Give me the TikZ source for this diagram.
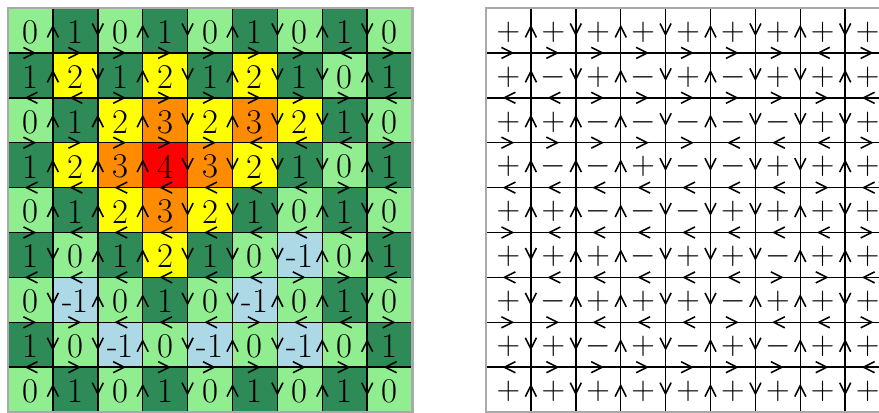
\documentclass[tikz,border=0pt]{standalone}
\usetikzlibrary{arrows.meta}
\definecolor{h0}{HTML}{ADD8E6}
\definecolor{h1}{HTML}{90EE90}
\definecolor{h2}{HTML}{2E8B57}
\definecolor{h3}{HTML}{FFFF00}
\definecolor{h4}{HTML}{FF8C00}
\definecolor{h5}{HTML}{FF0000}
\definecolor{framegray}{HTML}{AAAAAA}
\def\HH{{0,1,0,1,0,1,0,1,0,1,2,1,2,1,2,1,0,1,0,1,2,3,2,3,2,1,0,1,2,3,4,3,2,1,0,1,0,1,2,3,2,1,0,1,0,1,0,1,2,1,0,-1,0,1,0,-1,0,1,0,-1,0,1,0,1,0,-1,0,-1,0,-1,0,1,0,1,0,1,0,1,0,1,0}}
\def\LX{0.178}
\def\RX{10.824}
\def\TY{0.178}
\begin{document}
\begin{tikzpicture}[x=1cm,y=-1cm,
  gridline/.style={line width=1pt,black},
  frame/.style={line width=1.8pt,framegray},
  arr/.style={line width=1pt,-{Straight Barb[length=7pt,width=7pt]}},
  celltext/.style={font=\fontsize{22}{26}\selectfont,inner sep=0pt,yshift=-1pt}]
\useasboundingbox (0,0) rectangle (19.577,9.176);
% cells and texts
\foreach \i in {0,...,8}{\foreach \j in {0,...,8}{
  \pgfmathtruncatemacro\h{\HH[\i*9+\j]}
  \pgfmathtruncatemacro\k{\h+1}
  \fill[h\k] (\LX+\j,\TY+\i) rectangle ++(1,1);
  \node[celltext] (L-\i-\j) at (\LX+\j+0.5,\TY+\i+0.5) {\h};
  \pgfmathtruncatemacro\s{abs(mod((\h-mod(\i+\j,2))/2,2))}
  \node[celltext] (R-\i-\j) at (\RX+\j+0.5,\TY+\i+0.5) {\ifnum\s=0 $+$\else $-$\fi};
}}
% grid lines and arrows for both grids
\foreach \X in {\LX,\RX}{
  \foreach \j in {1,...,8} \draw[gridline] (\X+\j,\TY) -- (\X+\j,\TY+9);
  \foreach \i in {1,...,8} \draw[gridline] (\X,\TY+\i) -- (\X+9,\TY+\i);
  \foreach \i in {0,...,8}{\foreach \j in {0,...,7}{
    \pgfmathtruncatemacro\d{\HH[\i*9+\j+1]-\HH[\i*9+\j]}
    \draw[arr] (\X+\j+1,\TY+\i+0.5) ++(0,0.13*\d) -- ++(0,-0.26*\d);
  }}
  \foreach \i in {0,...,7}{\foreach \j in {0,...,8}{
    \pgfmathtruncatemacro\d{\HH[\i*9+\j+9]-\HH[\i*9+\j]}
    \draw[arr] (\X+\j+0.5,\TY+\i+1) ++(-0.13*\d,0) -- ++(0.26*\d,0);
  }}
  \draw[frame] (\X,\TY) rectangle ++(9,9);
}
\end{tikzpicture}
\end{document}
